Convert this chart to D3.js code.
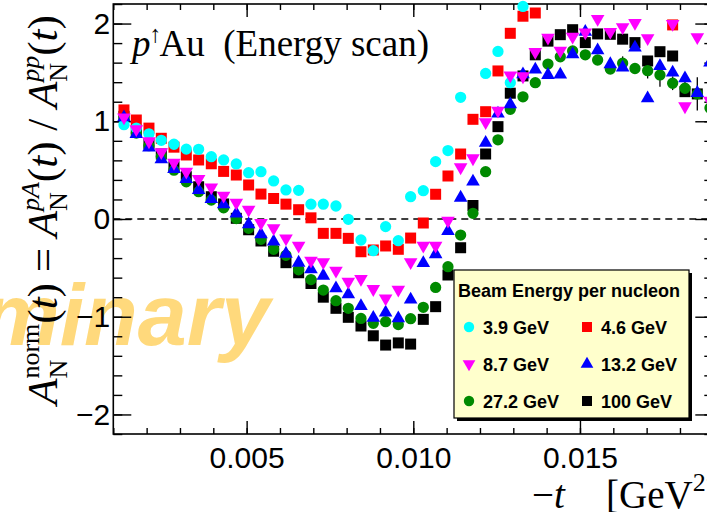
<!DOCTYPE html>
<html>
<head>
<meta charset="utf-8">
<script src="https://cdn.jsdelivr.net/npm/d3@7"></script>
<style>
  body { margin: 0; background: #fff; }
  svg { display: block; }
</style>
</head>
<body>
<svg id="chart" width="707" height="512"></svg>
<script>
// -t bin centres [GeV^2]
const tBins = [0.00132, 0.00169, 0.00207, 0.00244, 0.00282, 0.00319, 0.00356, 0.00394,
  0.00431, 0.00469, 0.00506, 0.00543, 0.00581, 0.00618, 0.00656, 0.00693,
  0.00730, 0.00768, 0.00805, 0.00843, 0.00880, 0.00917, 0.00955, 0.00992,
  0.01030, 0.01067, 0.01104, 0.01142, 0.01179, 0.01217, 0.01254, 0.01291,
  0.01329, 0.01366, 0.01404, 0.01441, 0.01478, 0.01516, 0.01553, 0.01591,
  0.01628, 0.01665, 0.01703, 0.01740, 0.01778, 0.01815, 0.01852, 0.01890];

// A_N normalised, one list per beam energy (null = outside the frame)
const an39 = [0.965, 0.93, 0.872, 0.805, 0.765, 0.715, 0.713, 0.638, 0.604, 0.563, 0.474, 0.484,
  0.39, 0.297, 0.293, 0.152, 0.152, 0.133, -0.003, -0.215, -0.324, -0.078, -0.222, 0.228,
  0.29, 0.587, 0.70, 1.245, null, 1.49, 1.715, 1.395, 2.175, null, null, null,
  null, null, null, null, null, null, null, null, null, null, null, null];
const an46 = [1.116, 1.013, 0.93, 0.826, 0.735, 0.655, 0.604, 0.565, 0.487, 0.45, 0.348, 0.255,
  0.21, 0.152, 0.095, 0.012, -0.147, -0.147, -0.198, -0.335, -0.317, -0.276, -0.31, -0.195,
  -0.041, 0.253, 0.44, 0.665, 1.02, 1.098, 1.515, 1.90, 2.075, 2.108, null, null,
  null, null, null, null, null, null, null, null, 1.986, null, null, null];
const an87 = [1.03, 0.91, 0.785, 0.673, 0.565, 0.474, 0.40, 0.314, 0.228, 0.158, 0.085, -0.05,
  -0.105, -0.208, -0.283, -0.437, -0.453, -0.54, -0.652, -0.624, -0.727, -0.822, -0.733, -0.453,
  -0.283, -0.283, -0.027, 0.519, 0.611, 0.98, 1.098, 1.46, 1.45, 1.70, 1.845, 1.712,
  1.855, 1.90, 2.037, 1.905, 1.952, 1.996, 1.84, null, 1.986, 1.143, 1.85, 1.20];
const an132 = [1.05, 0.88, 0.74, 0.62, 0.52, 0.42, 0.305, 0.215, 0.16, 0.065, -0.044, -0.147,
  -0.222, -0.345, -0.437, -0.505, -0.57, -0.70, -0.76, -0.88, -1.0, -0.948, -1.006, -0.815,
  -0.442, -0.35, -0.113, 0.228, 0.392, 0.79, 1.088, 1.184, 1.49, 1.54, 1.484, 1.487,
  1.696, 1.925, 1.737, 1.594, 1.559, 1.764, 1.245, 1.576, 1.508, 1.45, 1.30, 1.61];
const an272 = [1.047, 0.88, 0.75, 0.64, 0.50, 0.38, 0.28, 0.194, 0.115, 0.005, -0.095, -0.208,
  -0.31, -0.372, -0.52, -0.62, -0.727, -0.836, -0.914, -1.017, -1.068, -1.051, -1.08, -1.02,
  -0.904, -0.70, -0.488, -0.164, 0.058, 0.484, 0.81, 1.123, 1.25, 1.395, 1.585, 1.66,
  1.72, 1.68, 1.627, 1.535, 1.594, 1.54, 1.518, 1.474, 1.389, 1.338, 1.28, 1.136];
const an272Err = [0.04, 0.04, 0.04, 0.04, 0.04, 0.04, 0.04, 0.04, 0.04, 0.04, 0.04, 0.04,
  0.04, 0.04, 0.04, 0.04, 0.04, 0.04, 0.04, 0.04, 0.04, 0.04, 0.04, 0.04,
  0.04, 0.04, 0.04, 0.04, 0.04, 0.04, 0.04, 0.04, 0.04, 0.04, 0.04, 0.05,
  0.05, 0.05, 0.05, 0.05, 0.07, 0.05, 0.08, 0.12, 0.07, 0.07, 0.17, 0.15];
const an100 = [1.05, 0.90, 0.768, 0.665, 0.535, 0.433, 0.33, 0.228, 0.154, 0.007, -0.11, -0.225,
  -0.33, -0.447, -0.55, -0.66, -0.80, -0.914, -1.006, -1.095, -1.195, -1.29, -1.268, -1.28,
  -1.027, -0.897, -0.573, -0.294, 0.138, 0.665, 0.945, 1.287, 1.464, 1.68, 1.82, 1.886,
  1.937, 1.805, 1.894, 1.89, 1.84, 1.805, 1.617, 1.712, 1.668, 1.303, 1.28, null];

const yTicks = [-2, -1, 0, 1, 2];
const xTicks = [0.005, 0.010, 0.015];

// series in drawing order (last one on top)
const series = [
  { label: "100 GeV",  values: an100, colour: "#000000", shape: "square" },
  { label: "27.2 GeV", values: an272, colour: "#008a00", shape: "circle", errors: an272Err },
  { label: "4.6 GeV",  values: an46,  colour: "#ff0000", shape: "square" },
  { label: "3.9 GeV",  values: an39,  colour: "#00ffff", shape: "circle" },
  { label: "13.2 GeV", values: an132, colour: "#0000ff", shape: "triangleUp" },
  { label: "8.7 GeV",  values: an87,  colour: "#ff00ff", shape: "triangleDown" }
];
const legendOrder = ["3.9 GeV", "4.6 GeV", "8.7 GeV", "13.2 GeV", "27.2 GeV", "100 GeV"];

const svg = d3.select("#chart");
const frame = { left: 113.3, right: 713.3, top: 4, bottom: 434 };

const x = d3.scaleLinear().domain([0.001, 0.019]).range([frame.left, frame.right]);
const y = d3.scaleLinear().domain([-2.2, 2.2]).range([frame.bottom, frame.top]);

// Preliminary watermark, sits under everything
svg.append("text")
  .attr("x", 270).attr("y", 345)
  .attr("text-anchor", "end")
  .style("font-family", "'Liberation Sans', Arial, sans-serif")
  .style("font-style", "italic")
  .style("font-weight", "bold")
  .style("font-size", "88px")
  .style("fill", "#ffd97c")
  .text("Preliminary");

function markerPath(shape, size) {
  if (shape == "square") return d3.symbol(d3.symbolSquare, size)();
  if (shape == "circle") return d3.symbol(d3.symbolCircle, size)();
  let tri = d3.symbol(d3.symbolTriangle, size)();
  return tri;
}

// frame
svg.append("rect")
  .attr("x", frame.left).attr("y", frame.top)
  .attr("width", frame.right - frame.left).attr("height", frame.bottom - frame.top)
  .attr("fill", "none").attr("stroke", "#000").attr("stroke-width", 1.6);

function styleAxis(g) {
  g.select(".domain").remove();
  g.selectAll("line").attr("stroke", "#000").attr("stroke-width", 1.4);
}

const yMinor = d3.range(-22, 23, 2).map(d => d / 10);
const xMinor = d3.range(1, 20).map(d => d / 1000);

// left axis
svg.append("g").attr("transform", `translate(${frame.left},0)`)
  .call(d3.axisLeft(y).tickValues(yMinor).tickSize(-9).tickFormat("")).call(styleAxis);
svg.append("g").attr("transform", `translate(${frame.left},0)`)
  .call(d3.axisLeft(y).tickValues(yTicks).tickSize(-18).tickPadding(3).tickFormat(d3.format("d")))
  .call(styleAxis)
  .selectAll("text")
  .style("font-family", "'Liberation Sans', Arial, sans-serif")
  .style("font-size", "30px").attr("fill", "#000");

// right axis
svg.append("g").attr("transform", `translate(${frame.right},0)`)
  .call(d3.axisRight(y).tickValues(yMinor).tickSize(-9).tickFormat("")).call(styleAxis);
svg.append("g").attr("transform", `translate(${frame.right},0)`)
  .call(d3.axisRight(y).tickValues(yTicks).tickSize(-18).tickFormat("")).call(styleAxis);

// bottom axis
svg.append("g").attr("transform", `translate(0,${frame.bottom})`)
  .call(d3.axisBottom(x).tickValues(xMinor).tickSize(-6).tickFormat("")).call(styleAxis);
svg.append("g").attr("transform", `translate(0,${frame.bottom})`)
  .call(d3.axisBottom(x).tickValues(xTicks).tickSize(-13).tickPadding(13).tickFormat(d3.format(".3f")))
  .call(styleAxis)
  .selectAll("text")
  .style("font-family", "'Liberation Sans', Arial, sans-serif")
  .style("font-size", "30px").attr("fill", "#000");

// top axis
svg.append("g").attr("transform", `translate(0,${frame.top})`)
  .call(d3.axisTop(x).tickValues(xMinor).tickSize(-6).tickFormat("")).call(styleAxis);
svg.append("g").attr("transform", `translate(0,${frame.top})`)
  .call(d3.axisTop(x).tickValues(xTicks).tickSize(-13).tickFormat("")).call(styleAxis);

// zero line
svg.append("line")
  .attr("x1", frame.left).attr("x2", frame.right)
  .attr("y1", y(0)).attr("y2", y(0))
  .attr("stroke", "#000").attr("stroke-width", 1.5)
  .attr("stroke-dasharray", "7,5");

// data points
let plot = svg.append("g");
series.forEach(function(s) {
  let pts = tBins.map((t, i) => ({ t: t, v: s.values[i], e: s.errors ? s.errors[i] : 0 }))
    .filter(d => d.v != null);
  let g = plot.append("g");
  if (s.errors) {
    g.selectAll("line").data(pts).enter().append("line")
      .attr("x1", d => x(d.t)).attr("x2", d => x(d.t))
      .attr("y1", d => y(d.v - d.e)).attr("y2", d => y(d.v + d.e))
      .attr("stroke", "#000").attr("stroke-width", 1.3);
  }
  g.selectAll("path").data(pts).enter().append("path")
    .attr("d", markerPath(s.shape, s.shape == "circle" ? 100 : (s.shape == "square" ? 121 : 80)))
    .attr("transform", function(d) {
      let rot = s.shape == "triangleDown" ? " rotate(180)" : "";
      let dy = s.shape == "triangleDown" ? -1 : (s.shape == "triangleUp" ? 1 : 0);
      return "translate(" + x(d.t) + "," + (y(d.v) + dy) + ")" + rot;
    })
    .attr("fill", s.colour);
});

// in-frame title
let title = svg.append("text")
  .attr("x", 132).attr("y", 56)
  .style("font-family", "'Liberation Serif', 'Times New Roman', serif")
  .style("font-size", "37px");
title.append("tspan").style("font-style", "italic").text("p");
title.append("tspan").attr("dx", -1).attr("dy", -14).style("font-size", "24px").text("\u2191");
title.append("tspan").attr("dx", -2).attr("dy", 14).text("Au\u00a0\u00a0(Energy scan)");

// y title
let yTitle = svg.append("text")
  .attr("transform", "translate(57,210) rotate(-90)")
  .attr("text-anchor", "middle")
  .style("font-family", "'Liberation Serif', 'Times New Roman', serif")
  .style("font-size", "43px");

function measure(str, size, italic) {
  let tmp = svg.append("text")
    .style("font-family", "'Liberation Serif', 'Times New Roman', serif")
    .style("font-size", size + "px")
    .style("font-style", italic ? "italic" : "normal")
    .text(str);
  let w = tmp.node().getComputedTextLength();
  tmp.remove();
  return w;
}

function addA(txt, sup, supItalic) {
  txt.append("tspan").style("font-style", "italic").text("A");
  let wSup = measure(sup, 26, supItalic);
  let wN = measure("N", 26, false);
  txt.append("tspan").attr("dy", -18).style("font-size", "26px")
    .style("font-style", supItalic ? "italic" : "normal").text(sup);
  txt.append("tspan").attr("dx", -wSup).attr("dy", 28).style("font-size", "26px").text("N");
  txt.append("tspan").attr("dx", Math.max(0, wSup - wN)).attr("dy", -10).text("(");
  txt.append("tspan").style("font-style", "italic").text("t");
  txt.append("tspan").text(")");
}
addA(yTitle, "norm", false);
yTitle.append("tspan").text(" = ");
addA(yTitle, "pA", true);
yTitle.append("tspan").text(" / ");
addA(yTitle, "pp", true);

// x title
let xTitle = svg.append("text")
  .attr("x", 532).attr("y", 508)
  .style("font-family", "'Liberation Serif', 'Times New Roman', serif")
  .style("font-size", "39px");
xTitle.append("tspan").text("\u2212");
xTitle.append("tspan").style("font-style", "italic").text("t");
xTitle.append("tspan").attr("x", 606).text("[GeV");
xTitle.append("tspan").attr("dy", -17).style("font-size", "26px").text("2");
xTitle.append("tspan").attr("dy", 17).text("]");

// legend
const leg = { x: 454, y: 270, w: 235, h: 148 };
let lg = svg.append("g");
lg.append("rect")
  .attr("x", leg.x + 3).attr("y", leg.y + 3).attr("width", leg.w).attr("height", leg.h)
  .attr("fill", "#000");
lg.append("rect")
  .attr("x", leg.x).attr("y", leg.y).attr("width", leg.w).attr("height", leg.h)
  .attr("fill", "#ffffcc").attr("stroke", "#000").attr("stroke-width", 1.2);
lg.append("text")
  .attr("x", leg.x + 4).attr("y", leg.y + 27)
  .style("font-family", "'Liberation Sans', Arial, sans-serif")
  .style("font-weight", "bold").style("font-size", "18px")
  .text("Beam Energy per nucleon");

legendOrder.forEach(function(label, i) {
  let s = series.find(d => d.label == label);
  let col = i % 2, row = Math.floor(i / 2);
  let mx = leg.x + 15 + col * 118;
  let my = leg.y + 57 + row * 37;
  let rot = s.shape == "triangleDown" ? " rotate(180)" : "";
  lg.append("path")
    .attr("d", markerPath(s.shape, s.shape == "circle" ? 85 : (s.shape == "square" ? 100 : 70)))
    .attr("transform", "translate(" + mx + "," + my + ")" + rot)
    .attr("fill", s.colour);
  lg.append("text")
    .attr("x", mx + 14).attr("y", my + 7)
    .style("font-family", "'Liberation Sans', Arial, sans-serif")
    .style("font-weight", "bold").style("font-size", "18px")
    .text(label);
});
</script>
</body>
</html>
